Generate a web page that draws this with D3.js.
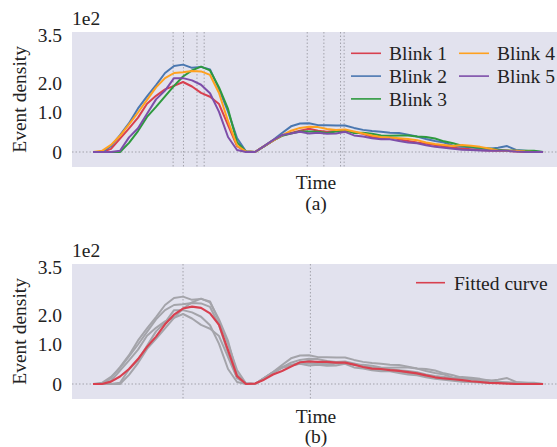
<!DOCTYPE html>
<html>
<head>
<meta charset="utf-8">
<script src="https://cdn.jsdelivr.net/npm/d3@7"></script>
<style>
  body { margin: 0; background: #fff; }
  text { font-family: "Liberation Serif", "Times New Roman", serif; fill: #222; }
</style>
</head>
<body>
<svg id="chart" width="557" height="447"></svg>
<script>
// time axis is unitless in the source, sampled every 2 steps
const time = d3.range(0, 101, 2);

const blinkNames = ["Blink 1", "Blink 2", "Blink 3", "Blink 4", "Blink 5"];
const blinkColors = ["#d8404f", "#4a77b0", "#2e9a3e", "#ffa11f", "#7d4ea9"];

const blink1 = [0, 0, 0.08, 0.34, 0.60, 0.87, 1.30, 1.57, 1.79, 1.91, 2.04, 1.89, 1.67, 1.54, 1.29, 0.68, 0.15, 0.01,
  0, 0.14, 0.29, 0.42, 0.48, 0.54, 0.59, 0.54, 0.51, 0.53, 0.54, 0.50, 0.46, 0.38, 0.35, 0.37, 0.32, 0.28, 0.24,
  0.21, 0.18, 0.14, 0.11, 0.09, 0.07, 0.05, 0.04, 0.03, 0.03, 0.01, 0, 0, 0];
const blink2 = [0, 0, 0.15, 0.43, 0.73, 1.14, 1.55, 1.94, 2.32, 2.54, 2.58, 2.48, 2.51, 2.43, 1.80, 1.03, 0.35, 0.01,
  0, 0.15, 0.30, 0.48, 0.65, 0.72, 0.73, 0.68, 0.68, 0.67, 0.67, 0.61, 0.56, 0.53, 0.51, 0.49, 0.48, 0.44, 0.39,
  0.33, 0.28, 0.24, 0.16, 0.13, 0.12, 0.09, 0.08, 0.11, 0.15, 0.05, 0.03, 0.01, 0];
const blink3 = [0, 0, 0, 0, 0.23, 0.53, 0.89, 1.19, 1.55, 1.91, 2.21, 2.40, 2.52, 2.40, 1.86, 1.12, 0.25, 0.01,
  0, 0.14, 0.29, 0.41, 0.47, 0.52, 0.52, 0.51, 0.48, 0.52, 0.56, 0.48, 0.49, 0.46, 0.42, 0.41, 0.42, 0.42, 0.39,
  0.38, 0.34, 0.27, 0.22, 0.16, 0.13, 0.11, 0.09, 0.06, 0.04, 0.03, 0.03, 0.03, 0];
const blink4 = [0, 0.03, 0.18, 0.41, 0.70, 1.00, 1.43, 1.86, 2.16, 2.32, 2.34, 2.38, 2.37, 2.26, 1.67, 0.78, 0.16, 0.01,
  0, 0.15, 0.29, 0.42, 0.54, 0.61, 0.64, 0.63, 0.58, 0.56, 0.57, 0.52, 0.47, 0.42, 0.38, 0.37, 0.35, 0.33, 0.30,
  0.24, 0.20, 0.18, 0.15, 0.18, 0.16, 0.13, 0.09, 0.04, 0.03, 0.03, 0.01, 0, 0];
const blink5 = [0, 0, 0, 0.03, 0.37, 0.60, 0.97, 1.45, 1.75, 2.16, 2.16, 2.09, 1.95, 1.66, 1.02, 0.38, 0.05, 0,
  0, 0.15, 0.30, 0.43, 0.47, 0.51, 0.47, 0.49, 0.46, 0.47, 0.51, 0.42, 0.39, 0.35, 0.32, 0.32, 0.28, 0.24, 0.22,
  0.17, 0.13, 0.11, 0.08, 0.06, 0.05, 0.04, 0.03, 0.03, 0.03, 0.01, 0, 0, 0];
const fitted = [0, 0, 0.06, 0.19, 0.38, 0.63, 0.94, 1.27, 1.69, 2.02, 2.21, 2.27, 2.23, 2.06, 1.67, 0.86, 0.20, 0,
  0.01, 0.11, 0.24, 0.33, 0.44, 0.55, 0.57, 0.56, 0.56, 0.54, 0.54, 0.49, 0.43, 0.39, 0.38, 0.35, 0.33, 0.30, 0.27,
  0.22, 0.17, 0.14, 0.12, 0.10, 0.07, 0.05, 0.03, 0.02, 0.01, 0, 0, 0, 0];

// peak markers (dotted vertical lines)
const peaksA = [17.8, 20.1, 23.1, 24.7, 47.6, 51.3, 55.0, 55.8];
const peaksB = [20.0, 48.3];

const yTicks = [0, 1, 2, 3.5];
const yTickLabels = ["0", "1.0", "2.0", "3.5"];

const blinks = [blink1, blink2, blink3, blink4, blink5];

const svg = d3.select("#chart");
const left = 72, right = 557;
const x = d3.scaleLinear().domain([-4.67, 103.1]).range([left, right]);

// the tick labels are not evenly spaced in the original, so the scale is piecewise
function makeY(top) {
  return d3.scaleLinear()
    .domain([-0.38, 0, 1, 2, 3.5, 3.59])
    .range([135, 120, 80.5, 51.3, 3, 0].map(v => v + top));
}

const gridStyle = line => line.attr("stroke", "#a2a2ab").attr("stroke-width", 1).attr("stroke-dasharray", "1.5,2");

function drawPanel(top, peaks, tag, timeY) {
  const y = makeY(top);
  const g = svg.append("g");
  g.append("rect")
    .attr("x", left).attr("y", y(3.59))
    .attr("width", right - left).attr("height", y(-0.38) - y(3.59))
    .attr("fill", "#e2e2ee");

  peaks.forEach(p => {
    g.append("line")
      .attr("x1", x(p)).attr("x2", x(p))
      .attr("y1", y(3.59)).attr("y2", y(-0.38))
      .call(gridStyle);
  });
  g.append("line")
    .attr("x1", left).attr("x2", right)
    .attr("y1", y(0)).attr("y2", y(0))
    .call(gridStyle);

  const axis = g.append("g")
    .attr("transform", `translate(${left},0)`)
    .call(d3.axisLeft(y).tickValues(yTicks).tickFormat((d, i) => yTickLabels[i]).tickSize(0).tickPadding(10));
  axis.select(".domain").remove();
  axis.attr("font-family", null).attr("font-size", null);
  axis.selectAll("text").style("font-size", "19.5px");

  g.append("text").attr("x", left).attr("y", top - 7).style("font-size", "19.5px").text("1e2");
  g.append("text")
    .attr("transform", `translate(22,${y(1.45)}) rotate(-90)`)
    .attr("text-anchor", "middle").attr("dominant-baseline", "middle")
    .style("font-size", "19.5px").text("Event density");
  g.append("text").attr("x", 316).attr("y", timeY).attr("text-anchor", "middle")
    .style("font-size", "19.5px").text("Time");
  g.append("text").attr("x", 316).attr("y", timeY + 20.5).attr("text-anchor", "middle")
    .style("font-size", "19.5px").text(tag);

  const line = d3.line().x((d, i) => x(time[i])).y(d => y(d));
  return { g, y, line };
}

/* panel (a): five blinks */
const a = drawPanel(32, peaksA, "(a)", 189.3);
blinks.forEach((s, i) => {
  a.g.append("path").datum(s)
    .attr("d", a.line)
    .attr("fill", "none")
    .attr("stroke", blinkColors[i])
    .attr("stroke-width", 2)
    .attr("stroke-linejoin", "round");
});

const legA = a.g.append("g");
blinkNames.forEach((name, i) => {
  const col = i < 3 ? 0 : 1;
  const row = i < 3 ? i : i - 3;
  const lx = [351, 459][col];
  const ly = 53.3 + row * 22.8;
  legA.append("line").attr("x1", lx).attr("x2", lx + 30).attr("y1", ly).attr("y2", ly)
    .attr("stroke", blinkColors[i]).attr("stroke-width", 1.6);
  legA.append("text").attr("x", lx + 38).attr("y", ly).attr("dy", "0.36em")
    .style("font-size", "19.5px").text(name);
});

/* panel (b): blinks in grey with the fitted curve */
const b = drawPanel(264, peaksB, "(b)", 422.5);
blinks.forEach(s => {
  b.g.append("path").datum(s)
    .attr("d", b.line)
    .attr("fill", "none")
    .attr("stroke", "#a4a4aa")
    .attr("stroke-width", 2)
    .attr("stroke-linejoin", "round");
});
b.g.append("path").datum(fitted)
  .attr("d", b.line)
  .attr("fill", "none")
  .attr("stroke", "#d8404f")
  .attr("stroke-width", 2.2)
  .attr("stroke-linejoin", "round");

b.g.append("line").attr("x1", 416).attr("x2", 445).attr("y1", 282.7).attr("y2", 282.7)
  .attr("stroke", "#d8404f").attr("stroke-width", 1.6);
b.g.append("text").attr("x", 454).attr("y", 282.7).attr("dy", "0.36em")
  .style("font-size", "19.5px").text("Fitted curve");
</script>
</body>
</html>
